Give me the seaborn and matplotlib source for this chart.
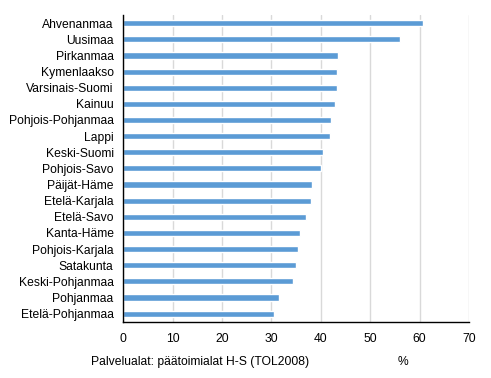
import matplotlib
matplotlib.use("Agg")
import matplotlib.pyplot as plt
import seaborn as sns
import pandas as pd

regions = ["Ahvenanmaa", "Uusimaa", "Pirkanmaa", "Kymenlaakso", "Varsinais-Suomi",
           "Kainuu", "Pohjois-Pohjanmaa", "Lappi", "Keski-Suomi", "Pohjois-Savo",
           "Päijät-Häme", "Etelä-Karjala", "Etelä-Savo", "Kanta-Häme", "Pohjois-Karjala",
           "Satakunta", "Keski-Pohjanmaa", "Pohjanmaa", "Etelä-Pohjanmaa"]
values = [60.8, 56.0, 43.4, 43.2, 43.2, 42.8, 42.0, 41.8, 40.4, 40.0,
          38.2, 38.0, 37.0, 35.7, 35.3, 34.9, 34.3, 31.5, 30.5]
xticks = [0, 10, 20, 30, 40, 50, 60, 70]

sns.set_theme(style="white", rc={"text.color": "black", "xtick.color": "black",
                                 "ytick.color": "black", "axes.labelcolor": "black"})
plt.rcParams['font.family'] = ['Liberation Sans', 'DejaVu Sans']

df = pd.DataFrame({"region": regions, "value": values})

FS = 8.7
fig = plt.figure(figsize=(4.91, 3.78), dpi=100)
ax = fig.add_axes([0.251, 0.149, 0.704, 0.811])
sns.barplot(data=df, y="region", x="value", color="#5B9BD5", saturation=1,
            width=0.38, ax=ax, orient="h")
ax.set_xlim(0, 70)
ax.set_ylim(len(regions) - 0.5, -0.5)
ax.set_xticks(xticks)
ax.set_xticklabels([str(t) for t in xticks], fontsize=FS)
ax.tick_params(axis='y', labelsize=FS, length=0, pad=7, labelcolor='black')
ax.tick_params(axis='x', length=0, pad=8, labelcolor='black')
ax.grid(axis='x', color='#D9D9D9', linewidth=1)
ax.set_axisbelow(True)
for s in ['top', 'right']:
    ax.spines[s].set_visible(False)
for s in ['left', 'bottom']:
    ax.spines[s].set_color('black')
    ax.spines[s].set_linewidth(1)
ax.set_xlabel("")
ax.set_ylabel("")
fig.text(200 / 491, 1 - 361.7 / 378, "Palvelualat: päätoimialat H-S (TOL2008)",
         ha='center', va='center', fontsize=FS, color='black')
fig.text(403 / 491, 1 - 361.7 / 378, "%", ha='center', va='center', fontsize=FS,
         color='black')
fig.savefig("out.png", dpi=100)
